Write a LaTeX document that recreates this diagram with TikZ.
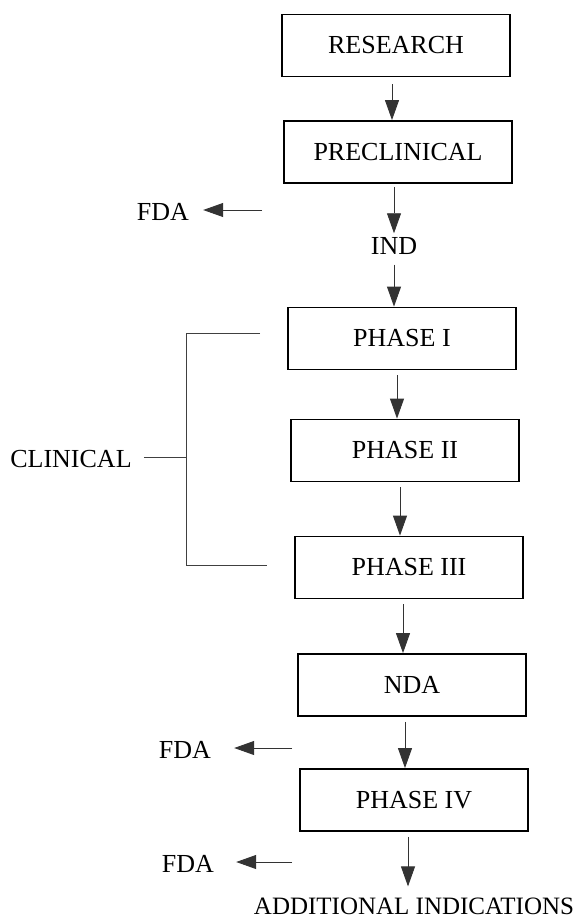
\documentclass[tikz,border=0pt]{standalone}
\usepackage{fontspec}
\setmainfont{Liberation Serif}
\usetikzlibrary{arrows.meta}
\begin{document}
\begin{tikzpicture}[x=1pt,y=-1pt,
  stage/.style={draw=black,line width=1.8pt,minimum width=228pt,minimum height=62pt,inner sep=0pt,font=\fontsize{26}{28}\selectfont},
  lbl/.style={inner sep=0pt,font=\fontsize{26}{28}\selectfont},
  flow/.style={draw=black!80,line width=0.9pt,-{Triangle[length=20pt,width=14pt]}},
  brk/.style={draw=black!75,line width=0.9pt}]
\useasboundingbox (0,0) rectangle (587,918);
\fill[white] (0,0) rectangle (587,918);
% boxes
\node[stage] (res) at (396,45.5) {RESEARCH};
\node[stage] (pre) at (398,152) {PRECLINICAL};
\node[lbl] (ind) at (394,246) {IND};
\node[stage] (p1) at (402,338.5) {PHASE I};
\node[stage] (p2) at (405,450.5) {PHASE II};
\node[stage] (p3) at (409,567.5) {PHASE III};
\node[stage] (nda) at (412,685) {NDA};
\node[stage] (p4) at (414,800) {PHASE IV};
\node[lbl,font=\fontsize{25}{27}\selectfont] (add) at (414,906) {ADDITIONAL INDICATIONS};
% side labels
\node[lbl] (fda1) at (163,212) {FDA};
\node[lbl] (fda2) at (185,750) {FDA};
\node[lbl] (fda3) at (188,864) {FDA};
\node[lbl] (clin) at (71,459) {CLINICAL};
% arrow columns
\coordinate (c0) at (392,0);
\coordinate (c1) at (394,0);
\coordinate (c2) at (394,0);
\coordinate (c3) at (397,0);
\coordinate (c4) at (400,0);
\coordinate (c5) at (403,0);
\coordinate (c6) at (405,0);
\coordinate (c7) at (408,0);
% main flow
\draw[flow,shorten <=7pt] (c0 |- res.south) -- (c0 |- pre.north);
\draw[flow,shorten <=3pt,shorten >=4pt] (c1 |- pre.south) -- (c1 |- ind.north);
\draw[flow,shorten <=10pt] (c2 |- ind.south) -- (c2 |- p1.north);
\draw[flow,shorten <=5pt] (c3 |- p1.south) -- (c3 |- p2.north);
\draw[flow,shorten <=5pt] (c4 |- p2.south) -- (c4 |- p3.north);
\draw[flow,shorten <=5pt] (c5 |- p3.south) -- (c5 |- nda.north);
\draw[flow,shorten <=5pt] (c6 |- nda.south) -- (c6 |- p4.north);
\draw[flow,shorten <=5pt,shorten >=11pt] (c7 |- p4.south) -- (c7 |- add.north);
% FDA arrows
\coordinate (f1) at (262,210);
\coordinate (f2) at (292,748);
\coordinate (f3) at (292,862);
\draw[flow,shorten >=14pt] (f1) -- (fda1.east |- f1);
\draw[flow,shorten >=23pt] (f2) -- (fda2.east |- f2);
\draw[flow,shorten >=22pt] (f3) -- (fda3.east |- f3);
% clinical bracket
\coordinate (bt) at (260,333);
\coordinate (bb) at (267,565);
\coordinate (bm) at (186,457);
\draw[brk] (bt) -- (186,333) -- (186,565) -- (bb);
\draw[brk,shorten <=12pt] (clin.east |- bm) -- (bm);
\end{tikzpicture}
\end{document}
